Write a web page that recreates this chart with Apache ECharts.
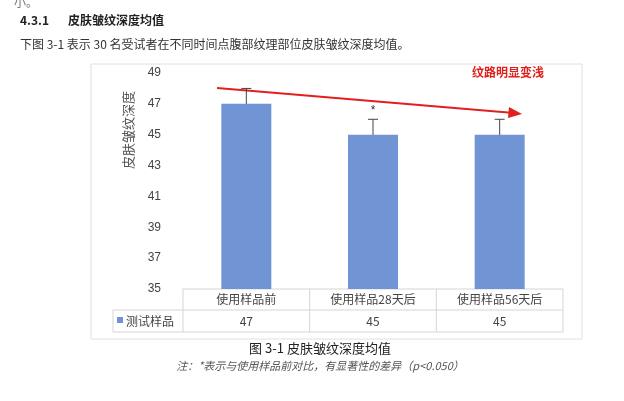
<!DOCTYPE html><html><head><meta charset="utf-8">
<script src="https://cdn.jsdelivr.net/npm/echarts@6/dist/echarts.min.js"></script>
<style>body{margin:0;background:#fff}#c{width:624px;height:401px}</style></head><body><div id="c"></div>
<script>
var categories=['使用样品前','使用样品28天后','使用样品56天后'];
var values=[47,45,45];
var errLow=[46,44,44];
var errHigh=[48,46,46];
var marks=['','*',''];
var seriesName='测试样品';
var F='"Noto Sans CJK SC", sans-serif';
var chart=echarts.init(document.getElementById('c'));
var g=[];
function txt(x,y,t,o){g.push(Object.assign({type:'text',x:x,y:y,style:Object.assign({text:t,font:'12px '+F,fill:'#222'},o||{})}));}
txt(14,-4,'小。',{fill:'#777'});
txt(20,14,'4.3.1',{font:'bold 12px '+F});
txt(68,14,'皮肤皱纹深度均值',{font:'bold 12px '+F});
txt(20,38,'下图 3-1 表示 30 名受试者在不同时间点腹部纹理部位皮肤皱纹深度均值。',{fill:'#333'});
g.push({type:'rect',shape:{x:91,y:64,width:491,height:275},style:{fill:'none',stroke:'#e0e0e0'}});
g.push({type:'text',x:128,y:130,rotation:Math.PI/2,style:{text:'皮肤皱纹深度',font:'13px '+F,fill:'#555',align:'center',verticalAlign:'middle'}});
var L=113,C=183,R=563,T=289,M=310,B=332,cw=(R-C)/3;
var ls={stroke:'#d5d5d5',lineWidth:1};
[[C,T,R,T],[L,M,R,M],[L,B,R,B],[L,M,L,B],[C,T,C,B],[R,T,R,B],[C+cw,T,C+cw,B],[C+2*cw,T,C+2*cw,B]].forEach(function(a){g.push({type:'line',shape:{x1:a[0],y1:a[1],x2:a[2],y2:a[3]},style:ls});});
categories.forEach(function(c,i){txt(C+cw*(i+0.5),(T+M)/2,c,{align:'center',verticalAlign:'middle',fill:'#444'});txt(C+cw*(i+0.5),(M+B)/2,String(values[i]),{align:'center',verticalAlign:'middle',fill:'#444'});});
g.push({type:'rect',shape:{x:117,y:317,width:6,height:6},style:{fill:'#7094d4'}});
txt(126,(M+B)/2,seriesName,{verticalAlign:'middle',fill:'#444'});
txt(508,72,'纹路明显变浅',{align:'center',verticalAlign:'middle',font:'bold 12px '+F,fill:'#e0201c'});
g.push({type:'line',shape:{x1:217,y1:88,x2:514,y2:113},style:{stroke:'#e0201c',lineWidth:2}});
g.push({type:'polygon',shape:{points:[[522,114],[509,107],[508,118]]},style:{fill:'#e0201c'}});
txt(320,348,'图 3-1 皮肤皱纹深度均值',{align:'center',verticalAlign:'middle',font:'13px '+F,fill:'#222'});
txt(320,366,'注：*表示与使用样品前对比，有显著性的差异（p<0.050）',{align:'center',verticalAlign:'middle',font:'italic 11px '+F,fill:'#555'});
chart.setOption({animation:false,
grid:{left:183,right:61,top:73,bottom:112},
xAxis:{type:'category',data:categories,axisLine:{show:false},axisTick:{show:false},axisLabel:{show:false}},
yAxis:{type:'value',min:35,max:49,interval:2,axisLabel:{fontFamily:'Liberation Sans',fontSize:12,color:'#444',margin:22},splitLine:{show:false},axisLine:{show:false}},
series:[{type:'bar',name:seriesName,data:values,barWidth:50,itemStyle:{color:'#7094d4'}},
{type:'custom',data:categories.map(function(c,i){return [i,errLow[i],errHigh[i]];}),
 renderItem:function(p,api){var lo=api.coord([api.value(0),api.value(1)]),hi=api.coord([api.value(0),api.value(2)]);var s={stroke:'#444',lineWidth:1};
 var ch=[{type:'line',shape:{x1:lo[0],y1:lo[1],x2:hi[0],y2:hi[1]},style:s},{type:'line',shape:{x1:lo[0]-5,y1:lo[1],x2:lo[0]+5,y2:lo[1]},style:s},{type:'line',shape:{x1:hi[0]-5,y1:hi[1],x2:hi[0]+5,y2:hi[1]},style:s}];
 var m=marks[p.dataIndex];
 if(m)ch.push({type:'text',x:hi[0],y:hi[1]-3,style:{text:m,align:'center',verticalAlign:'bottom',font:'12px sans-serif',fill:'#333'}});
 return {type:'group',children:ch};}}],
graphic:g});
</script></body></html>
